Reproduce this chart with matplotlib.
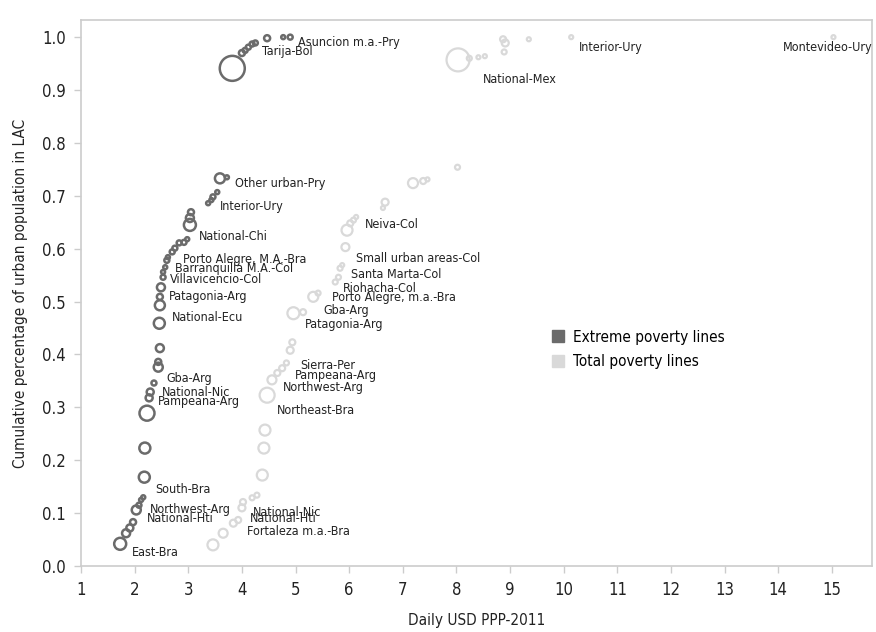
import numpy as np
import matplotlib.pyplot as plt
from matplotlib.lines import Line2D

plt.rcParams['font.family'] = ['DejaVu Sans']
plt.rcParams['font.stretch'] = 'condensed'

# extreme poverty lines: daily line, cumulative urban share, bubble weight
ext_x = [1.73, 1.84, 1.91, 1.97, 2.03, 2.08, 2.12, 2.16, 2.18, 2.19, 2.23, 2.27,
         2.29, 2.36, 2.44, 2.44, 2.47, 2.46, 2.47, 2.47, 2.49, 2.53, 2.53, 2.57,
         2.60, 2.62, 2.70, 2.75, 2.83, 2.92, 2.98, 3.03, 3.03, 3.05, 3.37, 3.43,
         3.46, 3.54, 3.59, 3.72, 3.82, 4.00, 4.06, 4.12, 4.19, 4.25, 4.47, 4.77, 4.90]
ext_y = [0.042, 0.062, 0.072, 0.083, 0.106, 0.115, 0.125, 0.130, 0.168, 0.223, 0.289, 0.318,
         0.329, 0.346, 0.376, 0.386, 0.412, 0.459, 0.493, 0.509, 0.527, 0.546, 0.556, 0.565,
         0.578, 0.584, 0.594, 0.601, 0.611, 0.612, 0.618, 0.645, 0.658, 0.669, 0.686, 0.692,
         0.698, 0.707, 0.733, 0.735, 0.941, 0.970, 0.975, 0.981, 0.987, 0.989, 0.998, 1.0, 1.0]
ext_w = [6, 4, 3.5, 3, 4.5, 2.5, 2, 2, 5.5, 5.5, 7.5, 3.5,
         3.5, 2.5, 4.5, 3, 4, 5.5, 5, 3, 4, 2.5, 2, 2,
         2.5, 2, 2.5, 2.5, 2.5, 2.5, 2, 6, 4, 3, 2, 2,
         2.5, 2, 5, 2, 12.5, 3, 2.5, 2.5, 2.5, 2.5, 3, 2, 2.5]

# total poverty lines
tot_x = [3.46, 3.65, 3.84, 3.93, 4.00, 4.02, 4.19, 4.28, 4.38, 4.41, 4.43, 4.47,
         4.56, 4.66, 4.75, 4.83, 4.90, 4.94, 4.96, 5.14, 5.33, 5.42, 5.74, 5.80,
         5.83, 5.87, 5.93, 5.96, 6.02, 6.08, 6.13, 6.63, 6.67, 7.19, 7.38, 7.46,
         8.02, 8.03, 8.24, 8.41, 8.53, 8.89, 8.91, 8.87, 9.35, 10.14, 15.03]
tot_y = [0.040, 0.062, 0.081, 0.087, 0.110, 0.121, 0.129, 0.134, 0.172, 0.223, 0.257, 0.323,
         0.352, 0.365, 0.374, 0.384, 0.408, 0.423, 0.478, 0.480, 0.509, 0.516, 0.537, 0.546,
         0.563, 0.569, 0.603, 0.635, 0.648, 0.654, 0.660, 0.677, 0.688, 0.724, 0.728, 0.731,
         0.754, 0.957, 0.960, 0.962, 0.964, 0.972, 0.989, 0.996, 0.996, 1.0, 1.0]
tot_w = [5.5, 4.5, 3.5, 3, 3.5, 3, 2.5, 2.5, 5.5, 5.5, 5.5, 7.5,
         4.5, 3, 3, 2.5, 3.5, 3, 6, 3, 5, 2.5, 2.5, 2.5,
         2.5, 2, 4, 5.5, 3, 2.5, 2, 2, 3.5, 5, 3, 2,
         2.5, 11.5, 2.5, 2, 2, 2.5, 3.5, 3, 2, 2, 2]

ext_labels = [('Other urban-Pry', 3.87, 0.724), ('Interior-Ury', 3.58, 0.679),
              ('National-Chi', 3.20, 0.624), ('Porto Alegre, M.A.-Bra', 2.90, 0.580),
              ('Barranquilla M.A.-Col', 2.75, 0.562), ('Villavicencio-Col', 2.66, 0.541),
              ('Patagonia-Arg', 2.64, 0.509), ('National-Ecu', 2.70, 0.469),
              ('Gba-Arg', 2.60, 0.355), ('National-Nic', 2.51, 0.329),
              ('Pampeana-Arg', 2.44, 0.312), ('South-Bra', 2.38, 0.145),
              ('Northwest-Arg', 2.29, 0.106), ('National-Hti', 2.23, 0.089),
              ('East-Bra', 1.95, 0.026), ('Tarija-Bol', 4.38, 0.972),
              ('Asuncion m.a.-Pry', 5.05, 0.989)]
tot_labels = [('Neiva-Col', 6.30, 0.645), ('Small urban areas-Col', 6.13, 0.582),
              ('Santa Marta-Col', 6.04, 0.552), ('Riohacha-Col', 5.89, 0.525),
              ('Porto Alegre, m.a.-Bra', 5.68, 0.507), ('Gba-Arg', 5.52, 0.484),
              ('Patagonia-Arg', 5.18, 0.456), ('Sierra-Per', 5.09, 0.380),
              ('Pampeana-Arg', 4.99, 0.361), ('Northwest-Arg', 4.77, 0.338),
              ('Northeast-Bra', 4.66, 0.295), ('National-Nic', 4.21, 0.102),
              ('National-Hti', 4.15, 0.089), ('Fortaleza m.a.-Bra', 4.10, 0.065),
              ('National-Mex', 8.50, 0.919), ('Interior-Ury', 10.29, 0.981),
              ('Montevideo-Ury', 14.08, 0.981)]

dark = '#6b6b6b'
light = '#d9d9d9'


def bubble_area(w):
    # weight is a radius in pixels at 100 dpi -> scatter area in pt^2
    return (2 * np.asarray(w) * 0.72) ** 2


fig = plt.figure(figsize=(8.76, 6.32), dpi=100)
ax = fig.add_axes([0.0925, 0.1044, 0.903, 0.8636])

ax.scatter(tot_x, tot_y, s=bubble_area(tot_w), facecolors='none',
           edgecolors=light, linewidths=1.6, zorder=2)
ax.scatter(ext_x, ext_y, s=bubble_area(ext_w), facecolors='none',
           edgecolors=dark, linewidths=1.8, zorder=3)

for txt, x, y in ext_labels + tot_labels:
    ax.text(x, y, txt, fontsize=9, color='#222222', ha='left', va='center', zorder=4)

ax.set_xlim(1, 15.75)
ax.set_ylim(0, 1.032)
ax.set_xticks(range(1, 16))
ax.set_yticks(np.arange(0, 1.01, 0.1))
ax.yaxis.set_major_formatter(plt.FormatStrFormatter('%.1f'))

for sp in ax.spines.values():
    sp.set_color('#cccccc')
    sp.set_linewidth(1.2)
ax.tick_params(direction='out', length=5, width=1, color='#cccccc',
               labelsize=12, labelcolor='#222222', pad=6)

ax.set_xlabel('Daily USD PPP-2011', fontsize=11, color='#222222', labelpad=10)
ax.set_ylabel('Cumulative percentage of urban population in LAC', fontsize=11,
              color='#222222', labelpad=10)

handles = [Line2D([], [], marker='s', linestyle='none', markersize=8.6,
                  markerfacecolor=dark, markeredgecolor=dark),
           Line2D([], [], marker='s', linestyle='none', markersize=8.6,
                  markerfacecolor=light, markeredgecolor=light)]
ax.legend(handles, ['Extreme poverty lines', 'Total poverty lines'],
          loc='center left', bbox_to_anchor=(0.578, 0.397), frameon=False,
          fontsize=11, handlelength=0.8, handletextpad=0.6, labelspacing=0.6)

fig.savefig('out.png', dpi=100)
